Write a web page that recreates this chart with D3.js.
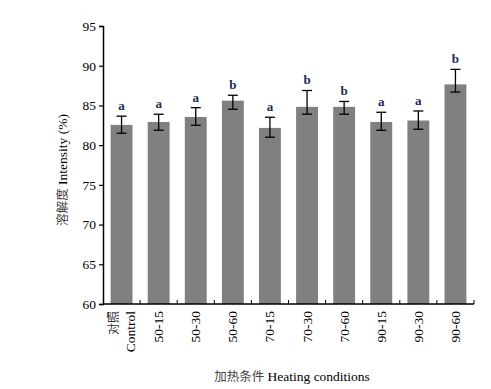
<!DOCTYPE html>
<html lang="zh">
<head>
<meta charset="utf-8">
<title>溶解度 Intensity</title>
<script src="https://cdn.jsdelivr.net/npm/d3@7"></script>
<style>
  body { margin: 0; background: #fff; }
  text { font-family: "Liberation Serif", "Times New Roman", serif; }
  .cjk { font-family: "Noto Sans CJK SC", sans-serif; }
</style>
</head>
<body>
<script>
// data
var categories = ["Control", "50-15", "50-30", "50-60", "70-15", "70-30", "70-60", "90-15", "90-30", "90-60"];
var values   = [82.55, 82.92, 83.55, 85.60, 82.17, 84.82, 84.82, 82.92, 83.10, 87.65];
var errUp    = [1.10, 0.97, 1.17, 0.68, 1.34, 2.06, 0.68, 1.22, 1.20, 1.89];
var errDown  = [1.05, 1.04, 1.05, 1.08, 1.17, 0.92, 0.92, 1.05, 1.10, 0.97];
var letters  = ["a", "a", "a", "b", "a", "b", "b", "a", "a", "b"];
var yTicks   = [60, 65, 70, 75, 80, 85, 90, 95];

var width = 491, height = 389;
var margin = { left: 103, right: 17, top: 26, bottom: 85 };

var svg = d3.select("body").append("svg")
  .attr("width", width)
  .attr("height", height);

var x = d3.scaleBand()
  .domain(categories)
  .range([margin.left, width - margin.right])
  .paddingInner(0.41)
  .paddingOuter(0.205);

var y = d3.scaleLinear()
  .domain([60, 95])
  .range([height - margin.bottom, margin.top]);

// bars
svg.selectAll("rect.bar")
  .data(values)
  .enter()
  .append("rect")
  .attr("class", "bar")
  .attr("x", (d, i) => x(categories[i]))
  .attr("y", d => y(d))
  .attr("width", x.bandwidth())
  .attr("height", d => y(60) - y(d))
  .attr("fill", "#808080");

// error bars
var eb = svg.selectAll("g.err")
  .data(values)
  .enter()
  .append("g")
  .attr("class", "err")
  .attr("stroke", "#000")
  .attr("stroke-width", 1.3);

var cx = (i) => x(categories[i]) + x.bandwidth() / 2;
eb.append("line")
  .attr("x1", (d, i) => cx(i)).attr("x2", (d, i) => cx(i))
  .attr("y1", (d, i) => y(d + errUp[i]))
  .attr("y2", (d, i) => y(d - errDown[i]));
eb.append("line")
  .attr("x1", (d, i) => cx(i) - 5).attr("x2", (d, i) => cx(i) + 5)
  .attr("y1", (d, i) => y(d + errUp[i]))
  .attr("y2", (d, i) => y(d + errUp[i]));
eb.append("line")
  .attr("x1", (d, i) => cx(i) - 5).attr("x2", (d, i) => cx(i) + 5)
  .attr("y1", (d, i) => y(d - errDown[i]))
  .attr("y2", (d, i) => y(d - errDown[i]));

// significance letters
svg.selectAll("text.sig")
  .data(values)
  .enter()
  .append("text")
  .attr("class", "sig")
  .attr("x", (d, i) => cx(i))
  .attr("y", (d, i) => y(d + errUp[i]) - 6)
  .attr("text-anchor", "middle")
  .attr("font-size", "13px")
  .attr("font-weight", "bold")
  .attr("fill", "#1b2a5a")
  .text((d, i) => letters[i]);

// y axis
var yAxis = svg.append("g")
  .attr("transform", "translate(" + margin.left + ",0)")
  .call(d3.axisLeft(y).tickValues(yTicks).tickSize(4).tickPadding(3));
yAxis.selectAll("text").attr("font-size", "13.5px").attr("fill", "#000")
  .style("font-family", "'Liberation Serif', serif");
yAxis.select(".domain").attr("stroke-width", 1.5);
yAxis.selectAll(".tick line").attr("stroke-width", 1.2);

// x axis with inward ticks at band boundaries
var xBase = height - margin.bottom;
var step = x.step();
var xAxis = svg.append("g").attr("transform", "translate(0," + xBase + ")");
xAxis.append("line")
  .attr("x1", margin.left).attr("x2", width - margin.right)
  .attr("y1", 0).attr("y2", 0)
  .attr("stroke", "#000").attr("stroke-width", 1.5);
xAxis.selectAll("line.tick")
  .data(categories)
  .enter()
  .append("line")
  .attr("class", "tick")
  .attr("x1", (d, i) => margin.left + (i + 1) * step)
  .attr("x2", (d, i) => margin.left + (i + 1) * step)
  .attr("y1", 0).attr("y2", -4)
  .attr("stroke", "#000").attr("stroke-width", 1);

// rotated category labels
xAxis.selectAll("text.cat")
  .data(categories.slice(1))
  .enter()
  .append("text")
  .attr("class", "cat")
  .attr("transform", d => "translate(" + (x(d) + x.bandwidth() / 2 + 4.5) + ",7) rotate(-90)")
  .attr("text-anchor", "end")
  .attr("font-size", "13.5px")
  .text(d => d);

var c0 = x(categories[0]) + x.bandwidth() / 2;
xAxis.append("text")
  .attr("class", "cjk")
  .attr("transform", "translate(" + (c0 - 3.5) + ",7) rotate(-90)")
  .attr("text-anchor", "end")
  .attr("font-size", "12px")
  .attr("fill", "#333")
  .text("对照");
xAxis.append("text")
  .attr("transform", "translate(" + (c0 + 13) + ",7) rotate(-90)")
  .attr("text-anchor", "end")
  .attr("font-size", "13.5px")
  .text("Control");

// axis titles
var yTitle = svg.append("text")
  .attr("transform", "translate(67,170) rotate(-90)")
  .attr("text-anchor", "middle")
  .attr("font-size", "13.5px");
yTitle.append("tspan").attr("class", "cjk").attr("fill", "#444").attr("font-size", "12.5px").text("溶解度");
yTitle.append("tspan").text(" Intensity (%)");

var xTitle = svg.append("text")
  .attr("transform", "translate(292,381)")
  .attr("text-anchor", "middle")
  .attr("font-size", "13.5px");
xTitle.append("tspan").attr("class", "cjk").attr("fill", "#444").attr("font-size", "12.5px").text("加热条件");
xTitle.append("tspan").text(" Heating conditions");
</script>
</body>
</html>
